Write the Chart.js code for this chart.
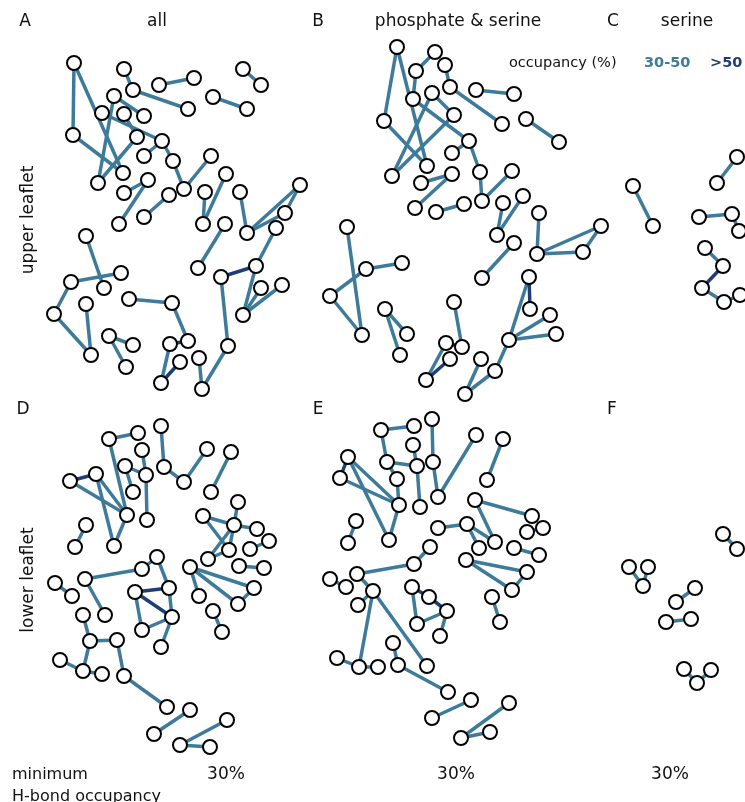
<!DOCTYPE html>
<html>
<head>
<meta charset="utf-8">
<script src="https://cdn.jsdelivr.net/npm/chart.js@4/dist/chart.umd.min.js"></script>
<style>
  html, body { margin: 0; padding: 0; background: #fff; }
  #wrap { position: relative; width: 745px; height: 802px; overflow: hidden; font-family: "DejaVu Sans", sans-serif; color: #111; }
  #net { position: absolute; left: 0; top: 0; }
  .t { position: absolute; font-size: 17px; white-space: nowrap; transform: translate(-50%, -50%); }
  .l { position: absolute; font-size: 16px; white-space: nowrap; transform: translateY(-50%); }
  .rot { transform: translate(-50%, -50%) rotate(-90deg); }
  .leg { font-size: 14.5px; }
  .b { font-weight: bold; }
</style>
</head>
<body>
<div id="wrap">
  <canvas id="net" width="745" height="802"></canvas>

  <div class="t" style="left:25px;top:20px">A</div>
  <div class="t" style="left:157px;top:20px">all</div>
  <div class="t" style="left:318px;top:20px">B</div>
  <div class="t" style="left:458px;top:20px">phosphate &amp; serine</div>
  <div class="t" style="left:613px;top:20px">C</div>
  <div class="t" style="left:687px;top:20px">serine</div>
  <div class="t" style="left:23px;top:408px">D</div>
  <div class="t" style="left:318px;top:408px">E</div>
  <div class="t" style="left:612px;top:408px">F</div>

  <div class="t rot" style="left:27px;top:220px">upper leaflet</div>
  <div class="t rot" style="left:27px;top:580px">lower leaflet</div>

  <div class="l leg" style="left:509px;top:62px">occupancy (%)</div>
  <div class="l leg b" style="left:644px;top:62px;color:#3e7b9b">30-50</div>
  <div class="l leg b" style="left:710px;top:62px;color:#1f3e75">&gt;50</div>

  <div class="l" style="left:12px;top:773px">minimum</div>
  <div class="l" style="left:12px;top:795px">H-bond occupancy</div>
  <div class="t" style="left:226px;top:773px">30%</div>
  <div class="t" style="left:456px;top:773px">30%</div>
  <div class="t" style="left:670px;top:773px">30%</div>
</div>

<script>
// colours for the two occupancy classes
const MID = '#3e7b9b';   // 30-50 %
const HIGH = '#1f3e75';  // >50 %

// node layouts per panel [x, y]; edges [i, j, high?]
const nodesA = [
  [74,63],[124,69],[159,85],[194,78],[243,69],[261,85],[133,90],[188,109],[213,97],[247,109],
  [114,96],[102,113],[124,114],[144,116],[73,135],[137,137],[162,141],[144,156],[173,161],[211,156],
  [123,173],[98,183],[148,180],[226,174],[300,185],[124,193],[169,195],[184,189],[205,192],[240,192],
  [119,224],[144,217],[203,224],[225,224],[247,233],[285,213],[276,228],[86,236],[121,273],[71,282],
  [104,288],[198,268],[221,277],[256,266],[261,288],[282,285],[243,315],[86,304],[129,299],[172,303],
  [54,314],[109,336],[133,345],[170,344],[188,341],[228,346],[91,355],[126,367],[180,362],[199,358],
  [161,383],[202,389]
];
const edgesA = [
  [0,14],[0,20],[14,20],[1,6],[2,3],[4,5],[6,7],[8,9],[10,21],[10,13],[11,16],[12,15],[15,21],
  [16,17],[16,18],[18,27],[27,19],[22,25],[22,30],[26,31],[28,32],[23,32],[29,34],[34,24],[34,35],
  [35,24],[36,43],[37,40],[38,39],[39,50],[50,56],[47,56],[41,33],[42,43,1],[42,55],[43,46],[44,46],
  [45,46],[48,49],[49,54],[51,52],[51,57],[53,60],[53,54,1],[58,60,1],[59,61],[55,61]
];

const nodesB = [
  [397,47],[435,52],[416,71],[445,65],[450,87],[413,99],[432,93],[384,121],[454,115],[469,141],
  [452,153],[427,166],[392,176],[421,183],[452,174],[415,208],[436,212],[464,204],[476,90],[514,94],
  [502,124],[526,119],[559,142],[480,172],[512,171],[482,201],[503,203],[523,196],[497,235],[539,213],
  [514,243],[601,226],[537,254],[583,252],[347,227],[402,263],[366,269],[330,296],[362,335],[385,309],
  [407,334],[400,355],[482,278],[529,277],[530,309],[550,315],[556,334],[509,340],[454,302],[446,343],
  [462,347],[450,359],[426,380],[481,359],[495,371],[465,394]
];
const edgesB = [
  [0,7],[0,11],[7,11],[1,2],[2,5],[3,4],[4,20],[18,19],[21,22],[5,9],[6,12],[8,12],[6,8],[9,10],
  [9,23],[23,25],[25,24],[26,28],[27,28],[13,14],[14,15],[16,17],[29,32],[32,31],[32,33],[33,31],
  [30,42],[34,38],[36,35],[36,37],[37,38],[39,40],[39,41],[48,50],[49,52],[51,52,1],[49,50,1],
  [43,44,1],[43,47],[45,47],[46,47],[47,54],[54,55],[53,55]
];

const nodesC = [
  [633,186],[653,226],[737,157],[717,183],[699,217],[732,214],[739,231],[705,248],[723,266],[702,288],
  [724,302],[740,295]
];
const edgesC = [[0,1],[2,3],[4,5],[5,6],[7,8],[8,9,1],[9,10],[10,11]];

const nodesD = [
  [161,426],[109,439],[138,433],[142,450],[125,466],[146,475],[164,467],[184,482],[207,449],[231,452],
  [70,481],[96,474],[133,492],[211,492],[127,515],[147,520],[238,502],[203,516],[234,525],[257,529],
  [269,541],[250,549],[86,525],[75,547],[114,546],[229,550],[208,559],[157,557],[239,566],[264,568],
  [142,569],[190,567],[85,579],[55,583],[169,588],[254,588],[135,592],[72,596],[199,596],[238,604],
  [83,615],[105,615],[172,617],[142,630],[213,611],[222,632],[161,647],[90,641],[117,640],[60,660],
  [83,671],[102,674],[124,676],[167,707],[190,710],[227,720],[154,734],[180,745],[210,747]
];
const edgesD = [
  [1,2],[1,14],[3,5],[5,15],[4,5],[4,12],[0,6],[6,7],[7,8],[9,13],[10,11,1],[10,14],[11,14],[11,24],
  [14,24],[22,23],[16,18],[17,18],[17,25],[18,19],[18,26],[18,25],[25,26],[20,21],[28,29],[27,30],
  [30,32],[27,34],[33,37],[32,41],[40,47],[47,48],[47,50],[49,50],[50,51],[48,52],[52,53],[56,54],
  [57,55],[57,58],[36,34,1],[36,42,1],[36,43],[43,42],[42,46],[34,42],[31,35],[31,39],[31,38],
  [35,39],[44,45]
];

const nodesE = [
  [432,419],[381,430],[414,426],[476,435],[503,439],[413,445],[348,457],[387,462],[417,466],[433,462],
  [340,478],[397,479],[487,480],[399,505],[420,507],[438,497],[475,500],[532,516],[356,521],[348,543],
  [389,540],[438,528],[467,524],[495,542],[479,548],[527,532],[543,528],[514,548],[539,555],[430,547],
  [414,564],[466,560],[527,572],[357,574],[330,579],[346,587],[373,591],[412,587],[429,597],[492,597],
  [512,590],[358,605],[447,611],[417,624],[440,636],[500,622],[393,643],[337,658],[359,667],[378,667],
  [398,665],[427,666],[448,692],[471,700],[432,718],[509,703],[461,738],[490,732]
];
const edgesE = [
  [1,2],[1,7],[7,8],[5,8],[8,14],[0,9],[9,15],[15,3],[4,12],[6,10,1],[6,13],[10,13],[6,20],[13,20],
  [7,11],[11,13],[18,19],[16,17],[16,23],[21,22],[22,23],[22,24],[25,26],[27,28],[29,30],[30,33],
  [33,36],[36,41],[36,51],[36,48],[34,35],[31,32],[31,40],[32,40],[37,38,1],[38,42,1],[37,43],
  [43,42],[42,44],[39,45],[46,50],[50,52],[47,48],[48,49],[54,53],[56,55],[56,57]
];

const nodesF = [
  [723,534],[737,549],[629,567],[648,567],[643,586],[695,588],[676,602],[666,622],[691,619],[684,669],
  [711,670],[697,683]
];
const edgesF = [[0,1],[2,4],[3,4],[5,6],[7,8],[9,11],[10,11]];

const panels = [
  [nodesA, edgesA], [nodesB, edgesB], [nodesC, edgesC],
  [nodesD, edgesD], [nodesE, edgesE], [nodesF, edgesF]
];

const datasets = [];
panels.forEach(([nodes, edges]) => {
  edges.forEach(e => {
    const a = nodes[e[0]], b = nodes[e[1]];
    datasets.push({
      data: [{ x: a[0], y: a[1] }, { x: b[0], y: b[1] }],
      showLine: true,
      borderColor: e[2] ? HIGH : MID,
      borderWidth: 3.5,
      pointRadius: 0,
      order: e[2] ? 1 : 2
    });
  });
  datasets.push({
    data: nodes.map(n => ({ x: n[0], y: n[1] })),
    showLine: false,
    pointRadius: 7,
    pointBorderWidth: 2,
    pointBorderColor: '#000',
    pointBackgroundColor: '#fff',
    order: 0
  });
});

new Chart(document.getElementById('net'), {
  type: 'scatter',
  data: { datasets },
  options: {
    responsive: false,
    animation: false,
    layout: { padding: 0, autoPadding: false },
    plugins: { legend: { display: false }, tooltip: { enabled: false } },
    scales: {
      x: { type: 'linear', min: 0, max: 745, display: false },
      y: { type: 'linear', min: 0, max: 802, reverse: true, display: false }
    }
  }
});
</script>
</body>
</html>
